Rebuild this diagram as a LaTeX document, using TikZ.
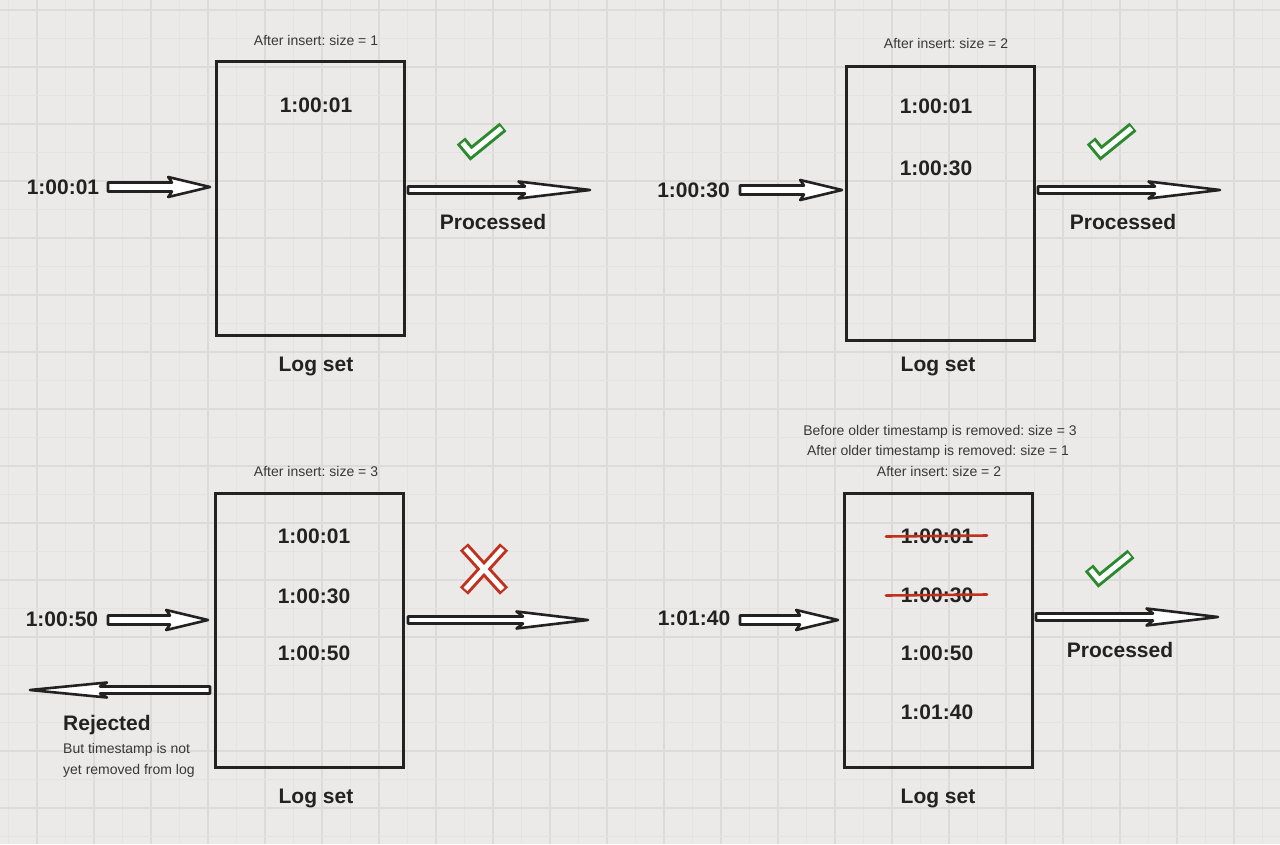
\documentclass[tikz,border=0pt]{standalone}
\usepackage{fontspec}
\setmainfont{Liberation Sans}
\frenchspacing
\definecolor{bg}{HTML}{ECEAE9}
\definecolor{gridmaj}{HTML}{DDDBDA}
\definecolor{gridmin}{HTML}{E5E3E2}
\definecolor{ink}{HTML}{222222}
\definecolor{okgreen}{HTML}{2B8A2E}
\definecolor{badred}{HTML}{C0321E}
\tikzset{
  logbox/.style={draw=ink, line width=3pt, minimum width=188pt, minimum height=274pt, inner sep=0pt},
  big/.style={font=\fontsize{21}{24}\selectfont\bfseries, text=ink, anchor=base, inner sep=0pt},
  small/.style={font=\fontsize{14}{17}\selectfont, text=ink!90, anchor=base, inner sep=0pt},
  harr/.style={draw=ink, fill=white, line width=2.6pt, line join=round},
  strike/.style={draw=badred, line width=2.6pt, line cap=round},
}
% hollow arrow: start x, tip x, y, head length (signed), shaft half width, head half width
\newcommand\hollowarrow[6]{%
  \draw[harr] ({#1},{#3-#5}) -- ({#2-#4},{#3-#5}) -- ({#2-1.1*#4},{#3-#6}) -- ({#2},{#3})
    -- ({#2-1.1*#4},{#3+#6}) -- ({#2-#4},{#3+#5}) -- ({#1},{#3+#5}) -- cycle;}
\newcommand\checkmk[2]{%
  \begin{scope}[shift={(#1,#2)}]
    \draw[okgreen, line width=11pt, line join=miter, line cap=butt] (-20,-3) -- (-10,9) -- (22,-17);
    \draw[white, line width=5pt, line join=miter, line cap=butt] (-18.5,-1.2) -- (-10,9) -- (20.5,-15.8);
  \end{scope}}
\begin{document}
\begin{tikzpicture}[x=1pt,y=-1pt]
\fill[bg] (0,0) rectangle (1280,844);
\useasboundingbox (0,0) rectangle (1280,844);
% grid
\foreach \k in {0,...,22} {
  \draw[gridmin, line width=0.9pt] ({8.5+57*\k},0) -- ({8.5+57*\k},844);
  \draw[gridmaj, line width=1.1pt] ({37+57*\k},0) -- ({37+57*\k},844);
}
\foreach \k in {0,...,14} {
  \draw[gridmin, line width=0.9pt] (0,{38.5+57*\k}) -- (1280,{38.5+57*\k});
  \draw[gridmaj, line width=1.1pt] (0,{10+57*\k}) -- (1280,{10+57*\k});
}

% ---------- panel 1 ----------
\node[logbox] (box1) at (310,198.5) {};
\node[small] (cap1) at (316,45) {After insert: size = 1};
\node[big] (e11) at (316,112.5) {1:00:01};
\node[big] (in1) at (63,194) {1:00:01};
\node[big] (proc1) at (493,229.5) {Processed};
\node[big] (log1) at (316,371) {Log set};
\hollowarrow{108}{210}{187}{38}{4.5}{10}
\hollowarrow{408}{590}{190}{65}{3.5}{8.5}
\checkmk{481}{144}

% ---------- panel 2 ----------
\node[logbox] (box2) at (940.5,203) {};
\node[small] (cap2) at (946,48) {After insert: size = 2};
\node[big] (e21) at (936,113.5) {1:00:01};
\node[big] (e22) at (936,175.5) {1:00:30};
\node[big] (in2) at (693.5,197.5) {1:00:30};
\node[big] (proc2) at (1123,229.5) {Processed};
\node[big] (log2) at (938,371) {Log set};
\hollowarrow{740}{842}{190}{38}{4.5}{10}
\hollowarrow{1038}{1220}{190}{65}{3.5}{8.5}
\checkmk{1111}{144}

% ---------- panel 3 ----------
\node[logbox] (box3) at (309,630.5) {};
\node[small] (cap3) at (316,476) {After insert: size = 3};
\node[big] (e31) at (314,543.5) {1:00:01};
\node[big] (e32) at (314,603.5) {1:00:30};
\node[big] (e33) at (314,660.5) {1:00:50};
\node[big] (in3) at (62,626.5) {1:00:50};
\hollowarrow{108}{208}{620}{38}{4.5}{10}
\hollowarrow{408}{588}{620}{65}{3.5}{8.5}
\hollowarrow{210}{30}{690}{-70}{3.5}{7.5}
\node[big, anchor=base west] (rej) at (63,730) {Rejected};
\node[small, anchor=base west] (rej1) at (63,753.5) {But timestamp is not};
\node[small, anchor=base west] (rej2) at (63,774.5) {yet removed from log};
\node[big] (log3) at (316,803) {Log set};
\begin{scope}[shift={(484,569)}]
  \draw[badred, line width=11pt, line cap=butt] (-20,-22) -- (20,22) (20,-22) -- (-20,22);
  \draw[white, line width=5pt, line cap=butt] (-18.5,-20.3) -- (18.5,20.3) (18.5,-20.3) -- (-18.5,20.3);
\end{scope}

% ---------- panel 4 ----------
\node[logbox] (box4) at (938.5,630.5) {};
\node[small] (cap4a) at (940,435) {Before older timestamp is removed: size = 3};
\node[small] (cap4b) at (938,455.5) {After older timestamp is removed: size = 1};
\node[small] (cap4c) at (939,476) {After insert: size = 2};
\node[big] (e41) at (937,543) {1:00:01};
\node[big] (e42) at (937,602) {1:00:30};
\node[big] (e43) at (937,660.5) {1:00:50};
\node[big] (e44) at (937,719.5) {1:01:40};
\draw[strike] (886,536.5) -- (987,535.5);
\draw[strike] (886,595.5) -- (987,594.5);
\node[big] (in4) at (694,625.5) {1:01:40};
\node[big] (proc4) at (1120,657.5) {Processed};
\node[big] (log4) at (938,803) {Log set};
\hollowarrow{740}{838}{620}{38}{4.5}{10}
\hollowarrow{1036}{1218}{617}{65}{3.5}{8.5}
\checkmk{1109}{571}
\end{tikzpicture}
\end{document}
